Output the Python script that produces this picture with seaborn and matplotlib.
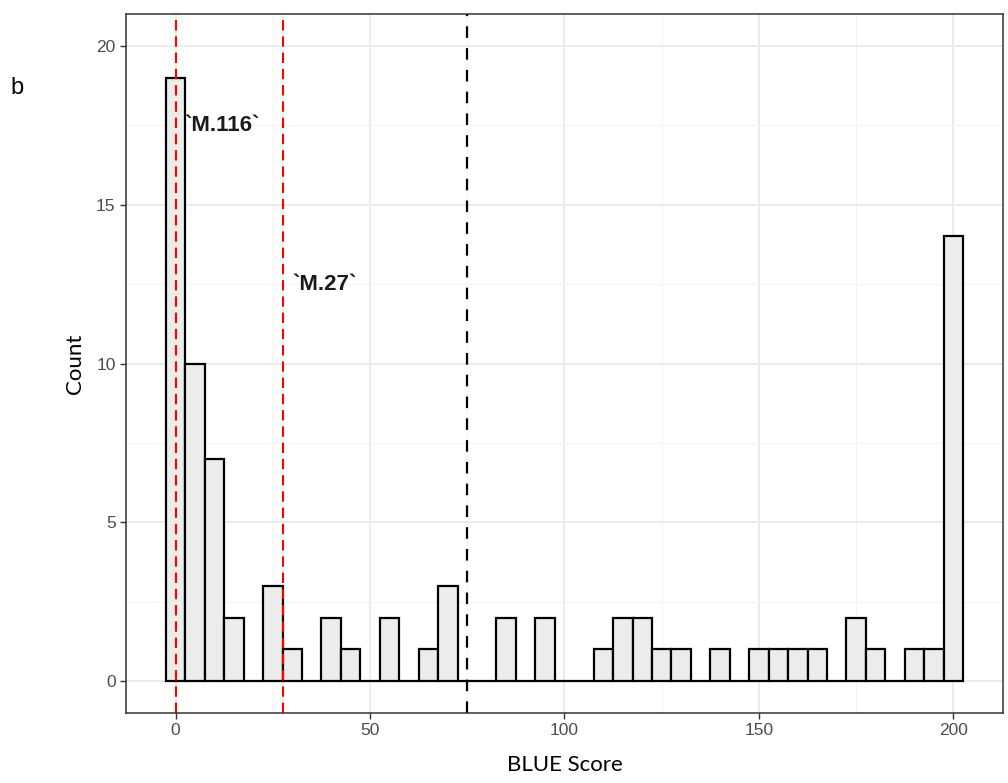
import numpy as np
import pandas as pd
import seaborn as sns
import matplotlib
matplotlib.use("Agg")
import matplotlib.pyplot as plt
from matplotlib import font_manager
from matplotlib.ticker import MultipleLocator

# Histogram of BLUE scores: bin centres (width 5) and counts
bin_centers = list(range(0, 205, 5))
counts = [19, 10, 7, 2, 0, 3, 1, 0, 2, 1, 0, 2, 0, 1, 3, 0, 0, 2, 0, 2, 0,
          0, 1, 2, 2, 1, 1, 0, 1, 0, 1, 1, 1, 1, 0, 2, 1, 0, 1, 1, 14]

# Reference markers
model_labels = ["`M.116`", "`M.27`"]
model_scores = [0.0, 27.7]
label_heights = [17.5, 12.5]
threshold = 75.0

x_ticks = [0, 50, 100, 150, 200]
y_ticks = [0, 5, 10, 15, 20]

df = pd.DataFrame({"score": bin_centers, "n": counts})


def sans_font(bold=False, size=12):
    """Regular-width Liberation Sans (not the Narrow cut), else DejaVu Sans."""
    want = "bold" if bold else "regular"
    for f in font_manager.fontManager.ttflist:
        fn = f.fname.lower()
        if "liberationsans" in fn.replace("-", "").replace("_", "") and "narrow" not in fn:
            base = fn.rsplit("/", 1)[-1]
            is_bold = "bold" in base
            is_italic = "italic" in base
            if is_italic or is_bold != bold:
                continue
            return font_manager.FontProperties(fname=f.fname, size=size)
    return font_manager.FontProperties(family="DejaVu Sans", size=size,
                                       weight="bold" if bold else "normal")


sns.set_theme(style="white")
plt.rcParams["font.family"] = ["Liberation Sans", "DejaVu Sans"]

fig = plt.figure(figsize=(10.08, 7.83), dpi=100)
ax = fig.add_axes([0.125, 0.0894, 0.870, 0.8926])

# theme_bw style grid
ax.set_axisbelow(True)
ax.xaxis.set_major_locator(MultipleLocator(50))
ax.xaxis.set_minor_locator(MultipleLocator(25))
ax.yaxis.set_major_locator(MultipleLocator(5))
ax.yaxis.set_minor_locator(MultipleLocator(2.5))
ax.grid(which="major", color="#EBEBEB", linewidth=1.4)
ax.grid(which="minor", color="#F4F4F4", linewidth=0.8)

sns.histplot(data=df, x="score", weights="n", binwidth=5,
             binrange=(-2.5, 202.5), stat="count",
             color="#ECECEC", alpha=1.0, edgecolor="black",
             linewidth=1.6, ax=ax)

label_font = sans_font(bold=True, size=16)
for xv, lab, yv in zip(model_scores, model_labels, label_heights):
    ax.axvline(xv, color="#FF0000", linestyle=(0, (5, 2.8)), linewidth=1.5)
    ax.text(xv + 2.3, yv, lab, ha="left", va="center",
            fontproperties=label_font, color="#1A1A1A")

ax.axvline(threshold, color="black", linestyle=(0, (5.2, 4.6)), linewidth=1.6)

ax.set_xlim(-12.75, 212.75)
ax.set_ylim(-1.0, 21.0)
ax.set_xticks(x_ticks)
ax.set_yticks(y_ticks)
ax.tick_params(axis="both", which="major", length=4.5, width=1,
               color="#333333", labelcolor="#4D4D4D",
               bottom=True, left=True, pad=3)
ax.tick_params(which="minor", length=0)
tick_font = sans_font(bold=False, size=12.5)
for t in ax.get_xticklabels() + ax.get_yticklabels():
    t.set_fontproperties(tick_font)

for side in ax.spines.values():
    side.set_color("#333333")
    side.set_linewidth(1.1)

ax.set_xlabel("BLUE Score", fontsize=16, family=["Lato", "DejaVu Sans"],
              color="black", labelpad=12)
ax.set_ylabel("Count", fontsize=16, family=["Lato", "DejaVu Sans"],
              color="black", labelpad=8)

fig.text(0.010, 0.888, "b", fontproperties=sans_font(bold=False, size=17),
         color="black", ha="left", va="center")

fig.savefig("out.png", dpi=100, facecolor="white")
